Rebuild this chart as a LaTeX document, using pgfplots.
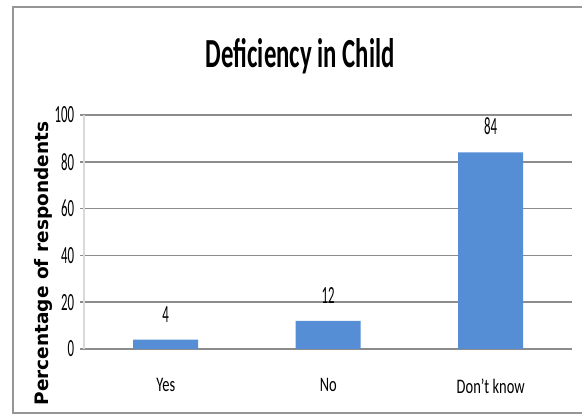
\documentclass[border=0pt]{standalone}
\usepackage{pgfplots}
\pgfplotsset{compat=1.18}
\usepackage{fontspec}
\newfontfamily\numfont[FakeStretch=0.52]{Carlito}
\newfontfamily\catfont[FakeStretch=0.7]{Carlito}
\newfontfamily\titlefont[FakeStretch=0.6]{Carlito}
\newfontfamily\ylabfont{DejaVu Sans}
\definecolor{barblue}{RGB}{85,142,213}
\definecolor{gridgray}{RGB}{140,140,140}
\definecolor{axisgray}{RGB}{217,217,217}
\definecolor{framegray}{RGB}{150,150,150}
\begin{document}
\begin{tikzpicture}
\path[use as bounding box] (-63.375pt,-48.75pt) rectangle (373.125pt,261.75pt);
\draw[framegray, line width=1.1pt] (-53.6pt,-48pt) rectangle (390pt,256.5pt);
\begin{axis}[
  at={(0pt,0pt)}, anchor=south west,
  scale only axis, width=365.6pt, height=175.5pt,
  xmin=-0.5, xmax=2.5, ymin=0, ymax=100,
  ybar, bar width=48.75pt,
  xtick={0,1,2}, xticklabels={Yes,No,Don’t know},
  ytick={0,20,40,60,80,100},
  axis x line=bottom, axis y line=left,
  x axis line style={draw=gridgray, line width=1.1pt, -},
  y axis line style={draw=axisgray, line width=1.5pt, -},
  ymajorgrids, grid style={draw=gridgray, line width=1.1pt},
  tick align=outside, major tick length=3pt,
  ytick style={draw=gridgray, line width=1.1pt},
  xtick style={draw=none},
  /pgf/number format/assume math mode=true,
  yticklabel style={font=\numfont\fontsize{18.5}{18.5}\selectfont, text=black, anchor=east, inner sep=0pt, xshift=-4.5pt},
  xticklabel style={font=\catfont\fontsize{15.5}{15.5}\selectfont, text=black, anchor=north, inner sep=0pt, yshift=-19pt},
  title={Deficiency in Child},
  title style={font=\titlefont\bfseries\fontsize{31}{31}\selectfont, at={(axis description cs:0.4426,1.168)}, anchor=base, inner sep=0pt},
  ylabel={Percentage of respondents},
  ylabel style={font=\ylabfont\bfseries\fontsize{13.9}{14}\selectfont, at={(axis description cs:-0.084,0.365)}, anchor=center, inner sep=0pt},
  nodes near coords,
  every node near coord/.append style={font=\numfont\fontsize{18.5}{18.5}\selectfont, text=black, anchor=south, inner sep=0pt, yshift=13pt},
]
\addplot[ybar, fill=barblue, draw=none] coordinates {(0,4) (1,12) (2,84)};
\end{axis}
\end{tikzpicture}
\end{document}
